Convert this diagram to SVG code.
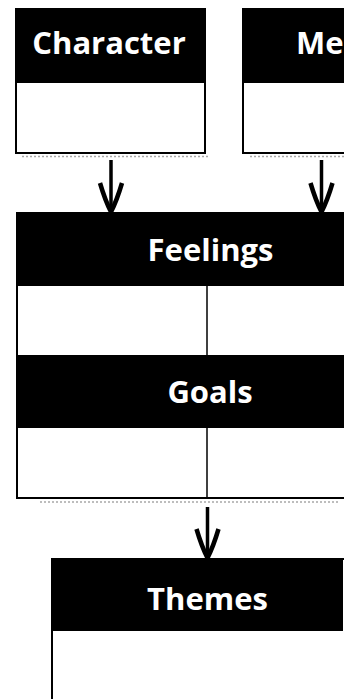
<svg xmlns="http://www.w3.org/2000/svg" width="344" height="699" viewBox="0 0 344 699">
<style>
.hdr{fill:#000;}
.body{fill:#fff;stroke:#000;stroke-width:2;}
.lbl{font-family:"Open Sans","DejaVu Sans",sans-serif;font-weight:700;font-size:31px;fill:#fff;text-anchor:middle;}
.div{stroke:#000;stroke-width:1.5;}
.shadow{stroke:#a8a8a8;stroke-width:1.5;stroke-dasharray:2 2;fill:none;}
.conn{stroke:#000;stroke-width:3.5;fill:none;marker-end:url(#arr);}
</style>
<defs>
<marker id="arr" markerUnits="userSpaceOnUse" viewBox="-31 -14 33 28" markerWidth="33" markerHeight="28" refX="0" refY="0" orient="auto" overflow="visible">
<path d="M -29 -11 Q -12 -6 0 0 Q -12 6 -29 11" fill="none" stroke="#000" stroke-width="4.5" stroke-linejoin="miter"/>
</marker>
</defs>
<rect width="344" height="699" fill="#fff"/>
<g id="character">
<rect class="body" x="16" y="9" width="189" height="144"/>
<rect class="hdr" x="16" y="9" width="189" height="74"/>
<text class="lbl" x="109" y="54">Character</text>
<line class="shadow" x1="22" y1="156.5" x2="210" y2="156.5"/>
</g>
<g id="me">
<rect class="body" x="243" y="9" width="110" height="144"/>
<rect class="hdr" x="243" y="9" width="110" height="74"/>
<text class="lbl" x="296" y="54" style="text-anchor:start">Me</text>
<line class="shadow" x1="250" y1="156.5" x2="344" y2="156.5"/>
</g>
<g id="feelings">
<rect class="body" x="17" y="213" width="340" height="143"/>
<rect class="hdr" x="17" y="213" width="340" height="73"/>
<line class="div" x1="207" y1="286" x2="207" y2="356"/>
<text class="lbl" x="210.5" y="261">Feelings</text>
</g>
<g id="goals">
<rect class="body" x="17" y="356" width="340" height="142"/>
<rect class="hdr" x="17" y="356" width="340" height="72"/>
<line class="div" x1="207" y1="428" x2="207" y2="498"/>
<text class="lbl" x="210" y="403">Goals</text>
<line class="shadow" x1="40" y1="502" x2="340" y2="502"/>
</g>
<g id="themes">
<rect class="body" x="52" y="559" width="300" height="150"/>
<rect class="hdr" x="52" y="559" width="291" height="72"/>
<text class="lbl" x="207.5" y="610">Themes</text>
</g>
<g id="connectors">
<line class="conn" x1="111" y1="160" x2="111" y2="212"/>
<line class="conn" x1="321.5" y1="160" x2="321.5" y2="212"/>
<line class="conn" x1="207.5" y1="507" x2="207.5" y2="558"/>
</g>
</svg>
